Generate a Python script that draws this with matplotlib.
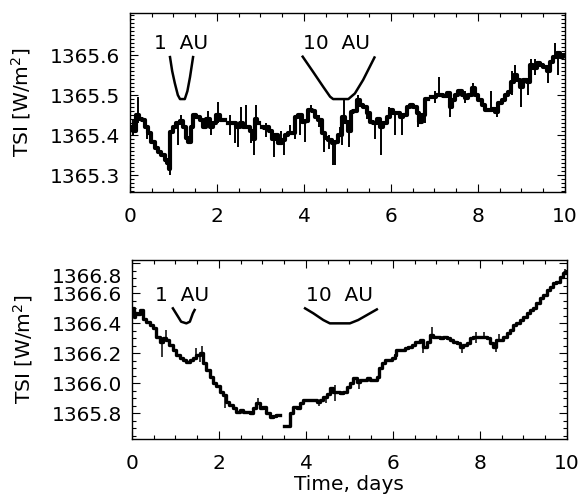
import numpy as np
import matplotlib
matplotlib.use('Agg')
import matplotlib.pyplot as plt
from matplotlib.ticker import MultipleLocator, FixedLocator
from matplotlib.transforms import ScaledTranslation

nan = np.nan

# upper panel: TSI time series (days, W/m^2), NaN marks data gaps
top_t = [0.00, 0.05, 0.10, 0.18, 0.25, 0.30, 0.37, 0.45, 0.53, 0.60, 0.68, 0.76, 0.83, 0.88, 0.91,
         0.95, 1.03, 1.10, 1.18, 1.26, 1.32, 1.37, 1.42, 1.49, 1.56, 1.64, 1.72, 1.79, 1.87, 1.95,
         2.02, 2.10, 2.17, 2.22, 2.28, 2.33, 2.41, 2.48, 2.56, 2.64, 2.71, 2.79, 2.85, 2.90, 2.94,
         3.00, 3.06, 3.10, 3.16, 3.25, 3.29, 3.37, 3.45, 3.52, 3.60, 3.68, 3.75, 3.83, 3.91, 3.98,
         4.06, 4.14, 4.21, 4.29, 4.37, 4.44, 4.52, 4.60, 4.67, 4.75, 4.83, 4.90, 4.98, 5.04, 5.10,
         5.17, 5.25, 5.32, 5.40, 5.48, 5.55, 5.63, 5.71, 5.78, 5.86, 5.94, 6.02, 6.09, 6.17, 6.25,
         6.32, 6.40, 6.48, 6.55, 6.63, 6.68, 6.74, 6.82, 6.86, 6.98, 7.09, 7.16, 7.24, 7.32, 7.38,
         7.43, 7.51, 7.59, 7.66, 7.74, 7.82, 7.89, 7.97, 8.05, 8.12, 8.20, 8.28, 8.35, 8.43, 8.51,
         8.58, 8.66, 8.74, 8.79, 8.85, 8.93, 9.00, 9.08, 9.16, 9.22, 9.31, 9.39, 9.46, 9.54, 9.62,
         9.69, 9.77, 9.85, 9.92, 10.00]
top_v = [1365.420, 1365.420, 1365.410, 1365.450, 1365.440, 1365.437, 1365.420, 1365.404, 1365.383,
         1365.367, 1365.358, 1365.350, 1365.337, 1365.330, 1365.315, 1365.408, 1365.420, 1365.430,
         1365.435, 1365.420, 1365.392, 1365.383, 1365.420, 1365.450, 1365.445, 1365.437, 1365.420,
         1365.440, 1365.420, 1365.430, 1365.450, 1365.437, 1365.437, nan, 1365.430, 1365.430,
         1365.430, 1365.420, 1365.430, 1365.420, 1365.420, 1365.410, 1365.390, 1365.440, 1365.430,
         nan, 1365.420, 1365.417, 1365.420, 1365.410, 1365.390, 1365.400, 1365.380, 1365.388,
         1365.400, 1365.404, 1365.405, 1365.446, 1365.450, 1365.433, 1365.436, 1365.462, 1365.460,
         1365.446, 1365.437, 1365.404, 1365.392, 1365.388, 1365.379, 1365.383, 1365.400, 1365.446,
         1365.433, 1365.410, 1365.458, 1365.460, 1365.488, 1365.475, 1365.470, 1365.455, 1365.433,
         1365.430, 1365.440, 1365.420, 1365.430, 1365.446, 1365.462, 1365.454, 1365.454, 1365.446,
         1365.450, 1365.470, 1365.475, 1365.470, 1365.454, 1365.433, 1365.450, 1365.490, nan,
         1365.496, 1365.500, 1365.500, 1365.497, 1365.504, 1365.470, 1365.488, 1365.500, 1365.510,
         1365.500, 1365.492, 1365.500, 1365.517, 1365.500, 1365.488, 1365.475, 1365.462, 1365.462,
         1365.464, 1365.458, 1365.479, 1365.487, 1365.500, 1365.508, 1365.533, 1365.550, 1365.537,
         1365.520, 1365.538, 1365.533, 1365.575, 1365.567, 1365.580, 1365.575, 1365.571, 1365.560,
         1365.583, 1365.596, 1365.604, 1365.596, 1365.600]

# short excursions in the upper series: time, low, high
top_spike_t = [0.07, 0.18, 0.40, 0.91, 1.10, 1.17, 1.79, 1.87, 2.02, 2.30, 2.41, 2.48, 2.55, 2.66,
               2.79, 2.85, 2.90, 3.12, 3.32, 3.47, 3.55, 3.68, 3.80, 3.91, 4.03, 4.17, 4.34, 4.47,
               4.57, 4.67, 4.72, 4.83, 4.87, 4.93, 5.04, 5.25, 5.45, 5.63, 5.78, 5.96, 6.09, 6.25,
               6.63, 6.78, 7.02, 7.11, 7.36, 7.70, 7.89, 8.30, 8.43, 8.79, 8.85, 9.00, 9.16, 9.22,
               9.30, 9.62, 9.77, 9.85]
top_spike_lo = [1365.400, 1365.430, 1365.390, 1365.300, 1365.375, 1365.435, 1365.440, 1365.400,
                1365.430, 1365.400, 1365.380, 1365.370, 1365.430, 1365.420, 1365.380, 1365.350,
                1365.440, 1365.395, 1365.346, 1365.380, 1365.350, 1365.404, 1365.390, 1365.400,
                1365.383, 1365.460, 1365.420, 1365.358, 1365.365, 1365.325, 1365.325, 1365.400,
                1365.375, 1365.446, 1365.370, 1365.488, 1365.440, 1365.390, 1365.350, 1365.446,
                1365.400, 1365.400, 1365.420, 1365.430, 1365.480, 1365.500, 1365.446, 1365.480,
                1365.517, 1365.462, 1365.446, 1365.500, 1365.550, 1365.470, 1365.500, 1365.545,
                1365.550, 1365.530, 1365.596, 1365.550]
top_spike_hi = [1365.440, 1365.495, 1365.420, 1365.330, 1365.430, 1365.450, 1365.460, 1365.420,
                1365.483, 1365.450, 1365.430, 1365.420, 1365.470, 1365.475, 1365.410, 1365.390,
                1365.475, 1365.430, 1365.390, 1365.410, 1365.388, 1365.425, 1365.420, 1365.450,
                1365.436, 1365.475, 1365.450, 1365.404, 1365.400, 1365.379, 1365.383, 1365.420,
                1365.446, 1365.488, 1365.410, 1365.500, 1365.470, 1365.430, 1365.420, 1365.470,
                1365.454, 1365.446, 1365.454, 1365.470, 1365.510, 1365.546, 1365.500, 1365.510,
                1365.530, 1365.510, 1365.458, 1365.560, 1365.575, 1365.520, 1365.533, 1365.590,
                1365.590, 1365.560, 1365.629, 1365.604]

# lower panel: TSI time series
bot_t = [0.00, 0.03, 0.05, 0.10, 0.14, 0.21, 0.29, 0.37, 0.44, 0.52, 0.60, 0.67, 0.75, 0.82, 0.90,
         0.98, 1.06, 1.13, 1.21, 1.29, 1.36, 1.44, 1.52, 1.59, 1.67, 1.75, 1.82, 1.90, 1.98, 2.05,
         2.13, 2.20, 2.28, 2.36, 2.44, 2.51, 2.59, 2.67, 2.74, 2.82, 2.90, 2.97, 3.05, 3.13, 3.20,
         3.28, 3.36, 3.45, 3.54, 3.63, 3.65, 3.75, 3.82, 3.90, 3.98, 4.05, 4.13, 4.21, 4.28, 4.36,
         4.44, 4.51, 4.59, 4.67, 4.74, 4.82, 4.90, 4.97, 5.05, 5.13, 5.20, 5.28, 5.36, 5.43, 5.51,
         5.59, 5.66, 5.70, 5.78, 5.86, 5.93, 6.01, 6.07, 6.09, 6.16, 6.24, 6.31, 6.39, 6.47, 6.54,
         6.59, 6.66, 6.74, 6.81, 6.89, 6.97, 7.05, 7.12, 7.20, 7.27, 7.35, 7.43, 7.50, 7.58, 7.66,
         7.73, 7.81, 7.89, 7.96, 8.04, 8.12, 8.19, 8.27, 8.34, 8.42, 8.50, 8.58, 8.65, 8.73, 8.80,
         8.88, 8.96, 9.04, 9.11, 9.19, 9.26, 9.34, 9.42, 9.50, 9.57, 9.65, 9.72, 9.80, 9.88, 9.95,
         10.00]
bot_v = [1366.475, 1366.500, 1366.440, 1366.470, 1366.460, 1366.487, 1366.430, 1366.410, 1366.387,
         1366.364, 1366.310, 1366.275, 1366.298, 1366.290, 1366.253, 1366.220, 1366.187, 1366.164,
         1366.153, 1366.140, 1366.153, 1366.164, 1366.187, 1366.200, 1366.131, 1366.087, 1366.042,
         1365.998, 1365.980, 1365.942, 1365.920, 1365.875, 1365.853, 1365.831, 1365.809, 1365.820,
         1365.809, 1365.809, 1365.798, 1365.831, 1365.864, 1365.831, 1365.842, 1365.798, 1365.776,
         1365.780, 1365.787, nan, 1365.713, 1365.713, 1365.798, 1365.842, 1365.835, 1365.864,
         1365.887, 1365.887, 1365.890, 1365.890, 1365.876, 1365.890, 1365.909, 1365.930, 1365.964,
         1365.942, 1365.942, 1365.931, 1365.942, 1365.975, 1365.998, 1366.031, 1366.009, 1366.020,
         1366.020, 1366.031, 1366.020, 1366.020, 1366.042, 1366.098, 1366.131, 1366.153, 1366.153,
         1366.164, 1366.187, 1366.220, 1366.220, 1366.220, 1366.231, 1366.242, 1366.253, 1366.276,
         1366.276, 1366.287, 1366.242, 1366.276, 1366.320, 1366.310, 1366.310, 1366.303, 1366.310,
         1366.298, 1366.287, 1366.276, 1366.264, 1366.242, 1366.253, 1366.264, 1366.298, 1366.310,
         1366.310, 1366.310, 1366.310, 1366.298, 1366.264, 1366.242, 1366.287, 1366.287, 1366.310,
         1366.331, 1366.353, 1366.387, 1366.398, 1366.420, 1366.442, 1366.464, 1366.487, 1366.498,
         1366.531, 1366.564, 1366.587, 1366.620, 1366.642, 1366.664, 1366.675, 1366.709, 1366.731,
         1366.750]

bot_spike_t = [0.02, 0.69, 0.78, 1.48, 1.56, 1.60, 2.14, 2.90, 4.30, 4.45, 4.66, 5.22, 6.70, 6.89,
               7.60, 7.90, 8.10, 8.36, 8.45, 9.95]
bot_spike_lo = [1366.460, 1366.175, 1366.298, 1366.187, 1366.140, 1366.200, 1365.833, 1365.864,
                1365.850, 1365.865, 1365.880, 1365.960, 1366.200, 1366.320, 1366.200, 1366.270,
                1366.310, 1366.210, 1366.287, 1366.731]
bot_spike_hi = [1366.510, 1366.275, 1366.353, 1366.233, 1366.200, 1366.245, 1365.920, 1365.900,
                1365.876, 1365.909, 1365.985, 1366.009, 1366.287, 1366.375, 1366.242, 1366.340,
                1366.340, 1366.242, 1366.330, 1366.760]

# smoothing window shapes shown above the traces
top_k1_t = [0.92, 0.97, 1.03, 1.10, 1.15, 1.26, 1.32, 1.38, 1.45]
top_k1_v = [1365.595, 1365.560, 1365.530, 1365.500, 1365.490, 1365.490, 1365.510, 1365.545, 1365.595]
top_k10_t = [3.97, 4.21, 4.44, 4.60, 4.67, 5.02, 5.17, 5.36, 5.62]
top_k10_v = [1365.596, 1365.558, 1365.521, 1365.496, 1365.490, 1365.490, 1365.504, 1365.538, 1365.594]
bot_k1_t = [0.94, 1.06, 1.13, 1.25, 1.33, 1.40, 1.44]
bot_k1_v = [1366.498, 1366.442, 1366.409, 1366.398, 1366.409, 1366.465, 1366.487]
bot_k10_t = [3.98, 4.17, 4.40, 4.55, 5.01, 5.20, 5.40, 5.63]
bot_k10_v = [1366.498, 1366.465, 1366.420, 1366.398, 1366.398, 1366.420, 1366.453, 1366.491]

top_yticks = [1365.3, 1365.4, 1365.5, 1365.6]
bot_yticks = [1365.8, 1366.0, 1366.2, 1366.4, 1366.6, 1366.8]

plt.rcParams['font.family'] = 'DejaVu Sans'
plt.rcParams['font.size'] = 14.5

fig = plt.figure(figsize=(5.79, 5.04), dpi=100)
ax1 = fig.add_axes([0.2245, 0.619, 0.7513, 0.355])
ax2 = fig.add_axes([0.228, 0.129, 0.751, 0.355])


def style_axis(ax, yticks, yminor):
    ax.set_xlim(0, 10)
    ax.xaxis.set_major_locator(MultipleLocator(2))
    ax.xaxis.set_minor_locator(MultipleLocator(0.5))
    ax.yaxis.set_major_locator(FixedLocator(yticks))
    ax.yaxis.set_minor_locator(MultipleLocator(yminor))
    ax.yaxis.set_major_formatter(lambda v, p: f'{v:.1f}')
    ax.tick_params(which='both', direction='in', top=True, right=True, width=0.8)
    ax.tick_params(which='major', length=6)
    ax.tick_params(which='minor', length=3)
    ax.tick_params(axis='x', pad=11)
    ax.tick_params(axis='y', pad=7)
    for s in ax.spines.values():
        s.set_linewidth(1.0)


# upper panel
ax1.plot(top_t, top_v, color='black', lw=3.0, drawstyle='steps-mid')
ax1.vlines(top_spike_t, top_spike_lo, top_spike_hi, color='black', lw=1.4)
ax1.plot(top_k1_t, top_k1_v, color='black', lw=1.8)
ax1.plot(top_k10_t, top_k10_v, color='black', lw=1.8)
ax1.text(1.17, 1365.63, '1  AU', ha='center', va='center')
ax1.text(4.75, 1365.63, '10  AU', ha='center', va='center')
ax1.set_ylim(1365.2575, 1365.705)
style_axis(ax1, top_yticks, 0.01)
ax1.set_ylabel('TSI [W/m$^2$]', labelpad=12)

# lower panel
ax2.plot(bot_t, bot_v, color='black', lw=2.4, drawstyle='steps-mid')
ax2.vlines(bot_spike_t, bot_spike_lo, bot_spike_hi, color='black', lw=1.1)
ax2.plot(bot_k1_t, bot_k1_v, color='black', lw=1.8)
ax2.plot(bot_k10_t, bot_k10_v, color='black', lw=1.8)
ax2.text(1.15, 1366.587, '1  AU', ha='center', va='center')
ax2.text(4.78, 1366.587, '10  AU', ha='center', va='center')
ax2.set_ylim(1365.627, 1366.82)
style_axis(ax2, bot_yticks, 0.05)
ax2.set_ylabel('TSI [W/m$^2$]', labelpad=12)
ax2.set_xlabel('Time, days', labelpad=1)

# nudge the topmost label of the lower panel down, clear of the frame
fig.canvas.draw()
for tick in ax2.yaxis.get_major_ticks():
    if abs(tick.get_loc() - 1366.8) < 1e-6:
        lbl = tick.label1
        lbl.set_transform(lbl.get_transform() + ScaledTranslation(0, -9 / 72, fig.dpi_scale_trans))

fig.savefig('out.png', dpi=100)
